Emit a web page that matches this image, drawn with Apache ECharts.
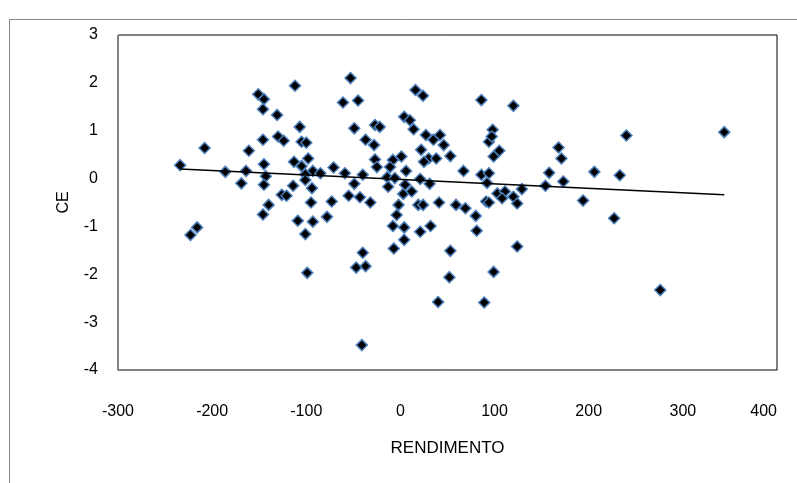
<!DOCTYPE html>
<html>
<head>
<meta charset="utf-8">
<script src="https://cdn.jsdelivr.net/npm/echarts@6/dist/echarts.min.js"></script>
<style>
    html, body { margin: 0; padding: 0; background: #fff; }
    #main { width: 797px; height: 483px; }
</style>
</head>
<body>
<div id="main"></div>
<script>
// valores (RENDIMENTO, CE)
var rendimento = [
    -234, -223, -216, -208, -186, -164, -169, -161, -151, -145,
    -146, -131, -146, -130, -124, -145, -143, -145, -140, -146,
    -126, -121, -112, -53, -61, -45, -107, -49, -27, -22,
    4, 10, -105, -100, -37, -28, -113, -98, -105, -93,
    -85, -71, -59, -27, -25, -8, 1, -11, -101, -40,
    -14, -6, -114, -101, -94, -49, -55, -43, -32, -95,
    -73, -109, -93, -78, -101, -99, -40, -47, -37, -13,
    3, -2, -4, -8, 4, 4, -7, -41, 40, 89,
    52, 16, 24, 86, 120, 14, 27, 35, 42, 46,
    98, 94, 97, 105, 99, 22, 30, 38, 25, 53,
    6, 67, 86, 94, 21, 31, 5, 12, 92, 103,
    111, 108, 120, 129, 124, 91, 94, 41, 19, 24,
    59, 69, 80, 81, 21, 32, 53, 124, 99, 240,
    344, 168, 171, 158, 206, 233, 173, 154, 194, 227,
    276
];
var ce = [
    0.28, -1.18, -1.02, 0.64, 0.14, 0.16, -0.10, 0.58, 1.76, 1.66,
    1.45, 1.33, 0.81, 0.88, 0.79, 0.30, 0.05, -0.13, -0.55, -0.75,
    -0.34, -0.36, 1.94, 2.10, 1.59, 1.63, 1.08, 1.05, 1.12, 1.08,
    1.29, 1.22, 0.77, 0.75, 0.81, 0.70, 0.35, 0.42, 0.26, 0.16,
    0.11, 0.23, 0.11, 0.40, 0.24, 0.39, 0.46, 0.24, 0.09, 0.08,
    0.03, 0.01, -0.15, -0.03, -0.20, -0.11, -0.36, -0.39, -0.50, -0.50,
    -0.48, -0.88, -0.90, -0.80, -1.16, -1.97, -1.55, -1.86, -1.83, -0.17,
    -0.32, -0.55, -0.76, -0.99, -1.02, -1.28, -1.46, -3.48, -2.58, -2.59,
    -2.06, 1.85, 1.73, 1.64, 1.52, 1.03, 0.91, 0.81, 0.91, 0.70,
    1.02, 0.77, 0.88, 0.58, 0.46, 0.60, 0.42, 0.42, 0.35, 0.47,
    0.16, 0.16, 0.08, 0.11, -0.01, -0.11, -0.13, -0.27, -0.09, -0.31,
    -0.27, -0.41, -0.38, -0.22, -0.52, -0.48, -0.50, -0.50, -0.55, -0.55,
    -0.55, -0.62, -0.78, -1.09, -1.11, -0.99, -1.51, -1.42, -1.95, 0.90,
    0.97, 0.65, 0.42, 0.12, 0.14, 0.07, -0.06, -0.15, -0.46, -0.83,
    -2.33
];

var fontName = 'Liberation Sans Narrow, Liberation Sans, sans-serif';

// linea de tendencia lineal (minimos cuadrados)
function tendencia(xs, ys) {
    let n = xs.length, sx = 0, sy = 0, sxy = 0, sxx = 0;
    xs.forEach(function (x, i) {
        sx += x; sy += ys[i]; sxy += x * ys[i]; sxx += x * x;
    });
    let b = (n * sxy - sx * sy) / (n * sxx - sx * sx);
    let a = (sy - b * sx) / n;
    let x0 = Math.min.apply(null, xs), x1 = Math.max.apply(null, xs);
    return [[x0, a + b * x0], [x1, a + b * x1]];
}

function draw_scatter() {
    var chartDom = document.getElementById('main');
    var myChart = echarts.init(chartDom);

    let puntos = [];
    rendimento.forEach(function (value, index) {
        puntos.push([value, ce[index]]);
    });

    var option = {
        animation: false,
        textStyle: { fontFamily: fontName },
        graphic: [{
            type: 'rect',
            shape: { x: 9.5, y: 19.5, width: 800, height: 500 },
            style: { fill: 'none', stroke: '#868686', lineWidth: 1 },
            silent: true
        }],
        grid: {
            left: 118, top: 35, right: 20, bottom: 113,
            show: true, borderColor: '#000', borderWidth: 1,
            backgroundColor: 'transparent'
        },
        xAxis: {
            type: 'value',
            min: -300, max: 400, interval: 100,
            name: 'RENDIMENTO',
            nameLocation: 'middle',
            nameGap: 70,
            nameTextStyle: { fontSize: 17, color: '#000', fontFamily: fontName },
            axisLine: { onZero: false, lineStyle: { color: '#868686' } },
            axisTick: { show: false },
            splitLine: { show: false },
            axisLabel: { fontSize: 16, color: '#000', margin: 34, alignMaxLabel: 'right' }
        },
        yAxis: {
            type: 'value',
            min: -4, max: 3, interval: 1,
            name: 'CE',
            nameLocation: 'middle',
            nameGap: 46,
            nameTextStyle: { fontSize: 16, color: '#000', fontFamily: fontName },
            axisLine: { show: true, onZero: false, lineStyle: { color: '#868686' } },
            axisTick: { show: false },
            splitLine: { show: false },
            axisLabel: { fontSize: 16, color: '#000', margin: 20 }
        },
        series: [{
            type: 'scatter',
            data: puntos,
            symbol: 'diamond',
            symbolSize: 11,
            itemStyle: { color: '#000', borderColor: '#4a7ebb', borderWidth: 1.5, opacity: 1 }
        }, {
            type: 'line',
            data: tendencia(rendimento, ce),
            showSymbol: false,
            symbol: 'none',
            lineStyle: { color: '#000', width: 1.5 },
            z: 3
        }]
    };

    myChart.setOption(option);
}

draw_scatter();
</script>
</body>
</html>
